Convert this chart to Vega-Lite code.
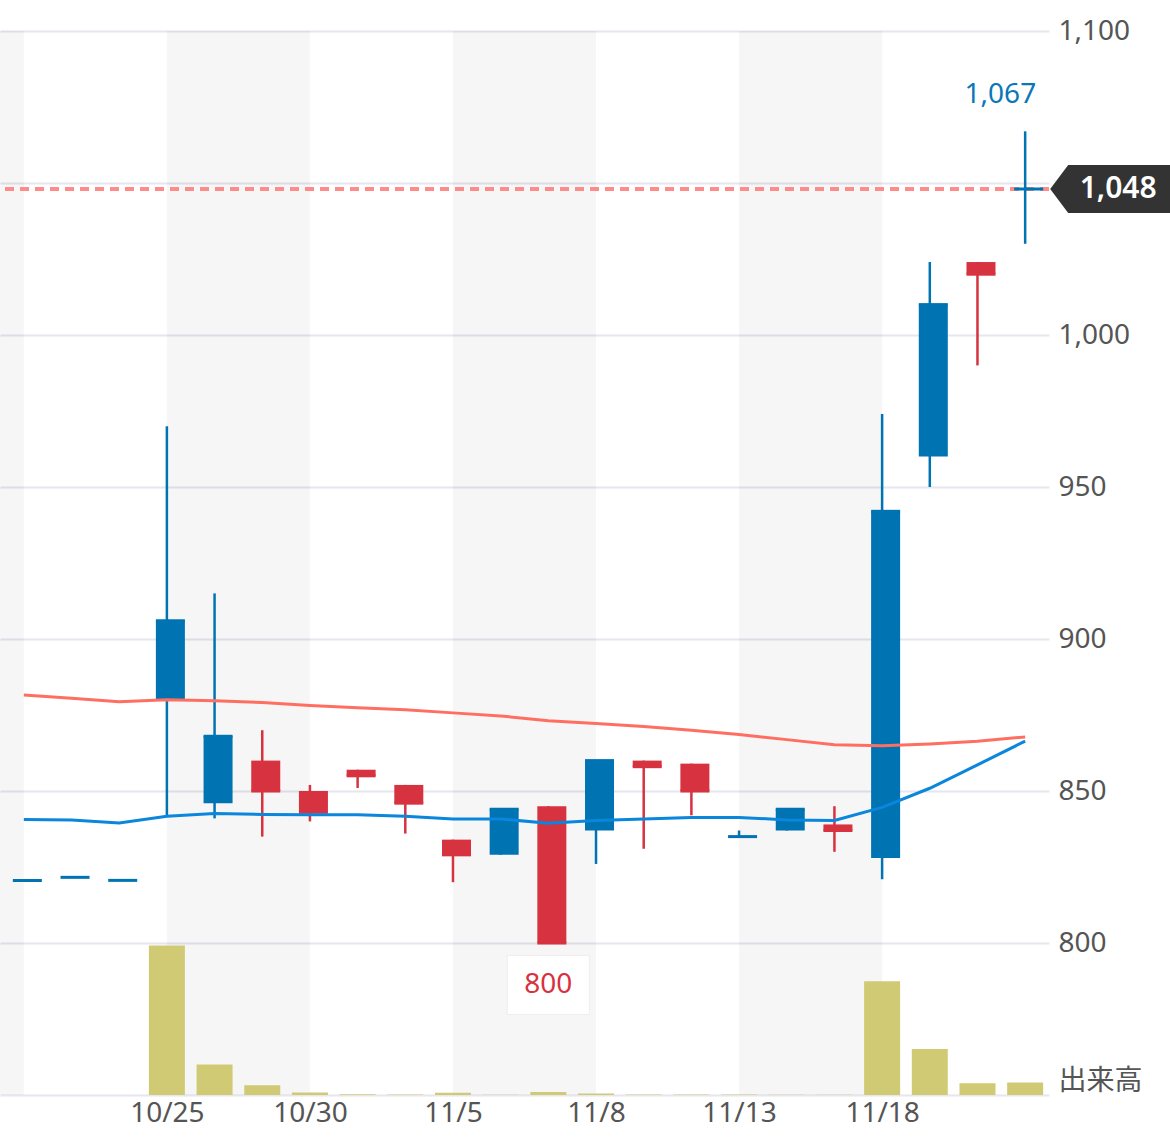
{
  "$schema": "https://vega.github.io/schema/vega-lite/v6.json",
  "width": 1049,
  "height": 1064,
  "autosize": {"type": "none"},
  "padding": {"left": 0, "top": 31, "right": 121, "bottom": 51},
  "background": "white",
  "config": {"view": {"stroke": null}, "font": "Noto Sans", "scale": {"continuousPadding": 0}},
  "datasets": {
    "candles": [
      {"i": 0, "date": "10/22", "open": 820.6, "high": 820.6, "low": 820.6, "close": 820.6, "vol": 0, "maS": 840.6, "maL": 881.6},
      {"i": 1, "date": "10/23", "open": 821.6, "high": 821.6, "low": 821.6, "close": 821.6, "vol": 0, "maS": 840.5, "maL": 880.5},
      {"i": 2, "date": "10/24", "open": 820.6, "high": 820.6, "low": 820.6, "close": 820.6, "vol": 0, "maS": 839.5, "maL": 879.4},
      {"i": 3, "date": "10/25", "open": 880, "high": 970, "low": 842, "close": 906, "vol": 98.3, "maS": 841.7, "maL": 880.0},
      {"i": 4, "date": "10/28", "open": 846, "high": 915, "low": 841, "close": 868, "vol": 20.1, "maS": 842.6, "maL": 879.7},
      {"i": 5, "date": "10/29", "open": 860, "high": 870, "low": 835, "close": 850, "vol": 6.4, "maS": 842.3, "maL": 879.1},
      {"i": 6, "date": "10/30", "open": 850, "high": 852, "low": 840, "close": 843, "vol": 1.7, "maS": 842.2, "maL": 878.1},
      {"i": 7, "date": "10/31", "open": 857, "high": 857, "low": 851, "close": 855, "vol": 0.5, "maS": 842.2, "maL": 877.4},
      {"i": 8, "date": "11/1", "open": 852, "high": 852, "low": 836, "close": 846, "vol": 0.3, "maS": 841.7, "maL": 876.7},
      {"i": 9, "date": "11/5", "open": 834, "high": 834, "low": 820, "close": 829, "vol": 1.4, "maS": 840.8, "maL": 875.7},
      {"i": 10, "date": "11/6", "open": 829, "high": 844, "low": 829, "close": 844, "vol": 0.2, "maS": 840.8, "maL": 874.7},
      {"i": 11, "date": "11/7", "open": 845, "high": 845, "low": 800, "close": 800, "vol": 1.9, "maS": 839.4, "maL": 873.1},
      {"i": 12, "date": "11/8", "open": 837, "high": 860, "low": 826, "close": 860, "vol": 1.0, "maS": 840.3, "maL": 872.2},
      {"i": 13, "date": "11/11", "open": 860, "high": 860, "low": 831, "close": 858, "vol": 0.3, "maS": 840.8, "maL": 871.2},
      {"i": 14, "date": "11/12", "open": 859, "high": 859, "low": 842, "close": 850, "vol": 0.3, "maS": 841.3, "maL": 870.0},
      {"i": 15, "date": "11/13", "open": 835, "high": 837, "low": 835, "close": 835, "vol": 0.4, "maS": 841.3, "maL": 868.6},
      {"i": 16, "date": "11/14", "open": 837, "high": 844, "low": 837, "close": 844, "vol": 0.2, "maS": 840.5, "maL": 866.9},
      {"i": 17, "date": "11/15", "open": 839, "high": 845, "low": 830, "close": 837, "vol": 0.2, "maS": 840.3, "maL": 865.2},
      {"i": 18, "date": "11/18", "open": 828, "high": 974, "low": 821, "close": 942, "vol": 74.9, "maS": 844.6, "maL": 864.9},
      {"i": 19, "date": "11/19", "open": 960, "high": 1024, "low": 950, "close": 1010, "vol": 30.3, "maS": 850.9, "maL": 865.5},
      {"i": 20, "date": "11/20", "open": 1024, "high": 1024, "low": 990, "close": 1020, "vol": 7.8, "maS": 858.6, "maL": 866.4},
      {"i": 21, "date": "11/21", "open": 1048, "high": 1067, "low": 1030, "close": 1048, "vol": 8.3, "maS": 866.4, "maL": 867.8}
    ],
    "bands": [
      {"b0": -0.5, "b1": 0},
      {"b0": 3, "b1": 6},
      {"b0": 9, "b1": 12},
      {"b0": 15, "b1": 18}
    ]
  },
  "layer": [
    {
      "data": {"name": "bands"},
      "mark": {"type": "rect", "color": "#000000", "opacity": 0.035},
      "encoding": {
        "x": {"field": "b0", "type": "quantitative", "title": null, "scale": {"domain": [-0.5, 21.5], "nice": false, "zero": false, "padding": 0},
          "axis": {
            "values": [3, 6, 9, 12, 15, 18],
            "labelExpr": "datum.value == 3 ? '10/25' : datum.value == 6 ? '10/30' : datum.value == 9 ? '11/5' : datum.value == 12 ? '11/8' : datum.value == 15 ? '11/13' : '11/18'",
            "domain": false,
            "ticks": false,
            "grid": false,
            "labelFontSize": 28,
            "labelColor": "#555555",
            "labelPadding": 4,
            "labelFont": "Noto Sans"
          }
        },
        "x2": {"field": "b1"},
        "y": {"datum": 1100, "type": "quantitative", "title": null, "scale": {"domain": [750, 1100], "nice": false, "zero": false},
          "axis": {
            "orient": "right",
            "values": [750, 800, 850, 900, 950, 1000, 1050, 1100],
            "labelExpr": "datum.value == 750 ? '出来高' : datum.value == 1050 ? '' : format(datum.value, ',')",
            "labelBaseline": {"condition": {"test": "datum.value == 750", "value": "bottom"}, "value": "middle"},
            "domain": false,
            "ticks": false,
            "grid": true,
            "gridColor": "#e6e6ee",
            "gridWidth": 2,
            "labelFontSize": 28,
            "labelColor": "#555555",
            "labelPadding": 9,
            "labelFont": "Noto Sans, Noto Sans CJK JP"
          }
        },
        "y2": {"datum": 750}
      }
    },
    {
      "data": {"name": "candles"},
      "mark": {"type": "bar", "width": 36, "color": "#d1ca74"},
      "encoding": {
        "x": {"field": "i", "type": "quantitative", "title": null,
          "axis": {
            "values": [3, 6, 9, 12, 15, 18],
            "labelExpr": "datum.value == 3 ? '10/25' : datum.value == 6 ? '10/30' : datum.value == 9 ? '11/5' : datum.value == 12 ? '11/8' : datum.value == 15 ? '11/13' : '11/18'",
            "domain": false,
            "ticks": false,
            "grid": false,
            "labelFontSize": 28,
            "labelColor": "#555555",
            "labelPadding": 4,
            "labelFont": "Noto Sans"
          }
        },
        "y": {"field": "vol", "type": "quantitative", "scale": {"domain": [0, 700], "nice": false}, "axis": null}
      }
    },
    {
      "data": {"name": "candles"},
      "mark": {"type": "rule", "color": "#ff8a8a", "strokeWidth": 2.5, "strokeDash": [9, 6]},
      "encoding": {
        "y": {"datum": 1048, "type": "quantitative", "scale": {"domain": [750, 1100], "nice": false, "zero": false}, "axis": null}
      }
    },
    {
      "data": {"name": "candles"},
      "layer": [
        {
          "mark": {"type": "rule", "strokeWidth": 2.5},
          "encoding": {
            "y": {"field": "low", "type": "quantitative", "scale": {"domain": [750, 1100], "nice": false, "zero": false}, "axis": null},
            "y2": {"field": "high"},
            "color": {"condition": {"test": "datum.close >= datum.open", "value": "#0073b3"}, "value": "#d7323f"}
          }
        },
        {
          "mark": {"type": "bar", "width": 29, "xOffset": 3.5},
          "encoding": {
            "y": {"field": "open", "type": "quantitative", "axis": null},
            "y2": {"field": "close"},
            "color": {"condition": {"test": "datum.close >= datum.open", "value": "#0073b3"}, "value": "#d7323f"}
          }
        },
        {
          "mark": {"type": "tick", "orient": "horizontal", "size": 29, "thickness": 3, "xOffset": 3.5, "opacity": 1},
          "encoding": {
            "y": {"field": "close", "type": "quantitative", "axis": null},
            "color": {"condition": {"test": "datum.close >= datum.open", "value": "#0073b3"}, "value": "#d7323f"}
          }
        },
        {
          "mark": {"type": "line", "color": "#ff6f61", "strokeWidth": 3},
          "encoding": {
            "y": {"field": "maL", "type": "quantitative", "axis": null}
          }
        },
        {
          "mark": {"type": "line", "color": "#0a86dc", "strokeWidth": 3},
          "encoding": {
            "y": {"field": "maS", "type": "quantitative", "axis": null}
          }
        },
        {
          "transform": [{"filter": "datum.i == 21"}],
          "mark": {"type": "text", "align": "right", "baseline": "alphabetic", "dx": 11, "dy": -28, "fontSize": 28, "color": "#0a78b8", "font": "Noto Sans"},
          "encoding": {
            "y": {"field": "high", "type": "quantitative", "axis": null},
            "text": {"field": "high", "type": "quantitative", "format": ","}
          }
        },
        {
          "transform": [{"filter": "datum.i == 11"}],
          "mark": {"type": "point", "shape": "M -1 -0.72 L 1 -0.72 L 1 0.72 L -1 0.72 Z", "size": 6724, "filled": true, "fill": "#ffffff", "stroke": "#eeeeee", "strokeWidth": 1, "opacity": 1, "yOffset": 42},
          "encoding": {
            "y": {"field": "low", "type": "quantitative", "axis": null}
          }
        },
        {
          "transform": [{"filter": "datum.i == 11"}],
          "mark": {"type": "text", "align": "center", "baseline": "middle", "dy": 42, "fontSize": 28, "color": "#d7323f", "font": "Noto Sans"},
          "encoding": {
            "y": {"field": "low", "type": "quantitative", "axis": null},
            "text": {"field": "low", "type": "quantitative", "format": ","}
          }
        },
        {
          "transform": [{"filter": "datum.i == 21"}],
          "mark": {"type": "point", "shape": "M -1 0 L -0.7 -0.4 L 1 -0.4 L 1 0.4 L -0.7 0.4 Z", "size": 14400, "filled": true, "fill": "#333333", "strokeWidth": 0, "opacity": 1, "xOffset": 85},
          "encoding": {
            "y": {"field": "close", "type": "quantitative", "axis": null}
          }
        },
        {
          "transform": [{"filter": "datum.i == 21"}],
          "mark": {"type": "text", "align": "center", "baseline": "middle", "dx": 93, "fontSize": 30, "fontWeight": 600, "color": "#ffffff", "font": "Noto Sans"},
          "encoding": {
            "y": {"field": "close", "type": "quantitative", "axis": null},
            "text": {"field": "close", "type": "quantitative", "format": ","}
          }
        }
      ],
      "encoding": {
        "x": {"field": "i", "type": "quantitative", "title": null,
          "axis": {
            "values": [3, 6, 9, 12, 15, 18],
            "labelExpr": "datum.value == 3 ? '10/25' : datum.value == 6 ? '10/30' : datum.value == 9 ? '11/5' : datum.value == 12 ? '11/8' : datum.value == 15 ? '11/13' : '11/18'",
            "domain": false,
            "ticks": false,
            "grid": false,
            "labelFontSize": 28,
            "labelColor": "#555555",
            "labelPadding": 4,
            "labelFont": "Noto Sans"
          }
        }
      },
      "resolve": {"scale": {"y": "shared"}}
    }
  ],
  "resolve": {"scale": {"y": "independent"}}
}
